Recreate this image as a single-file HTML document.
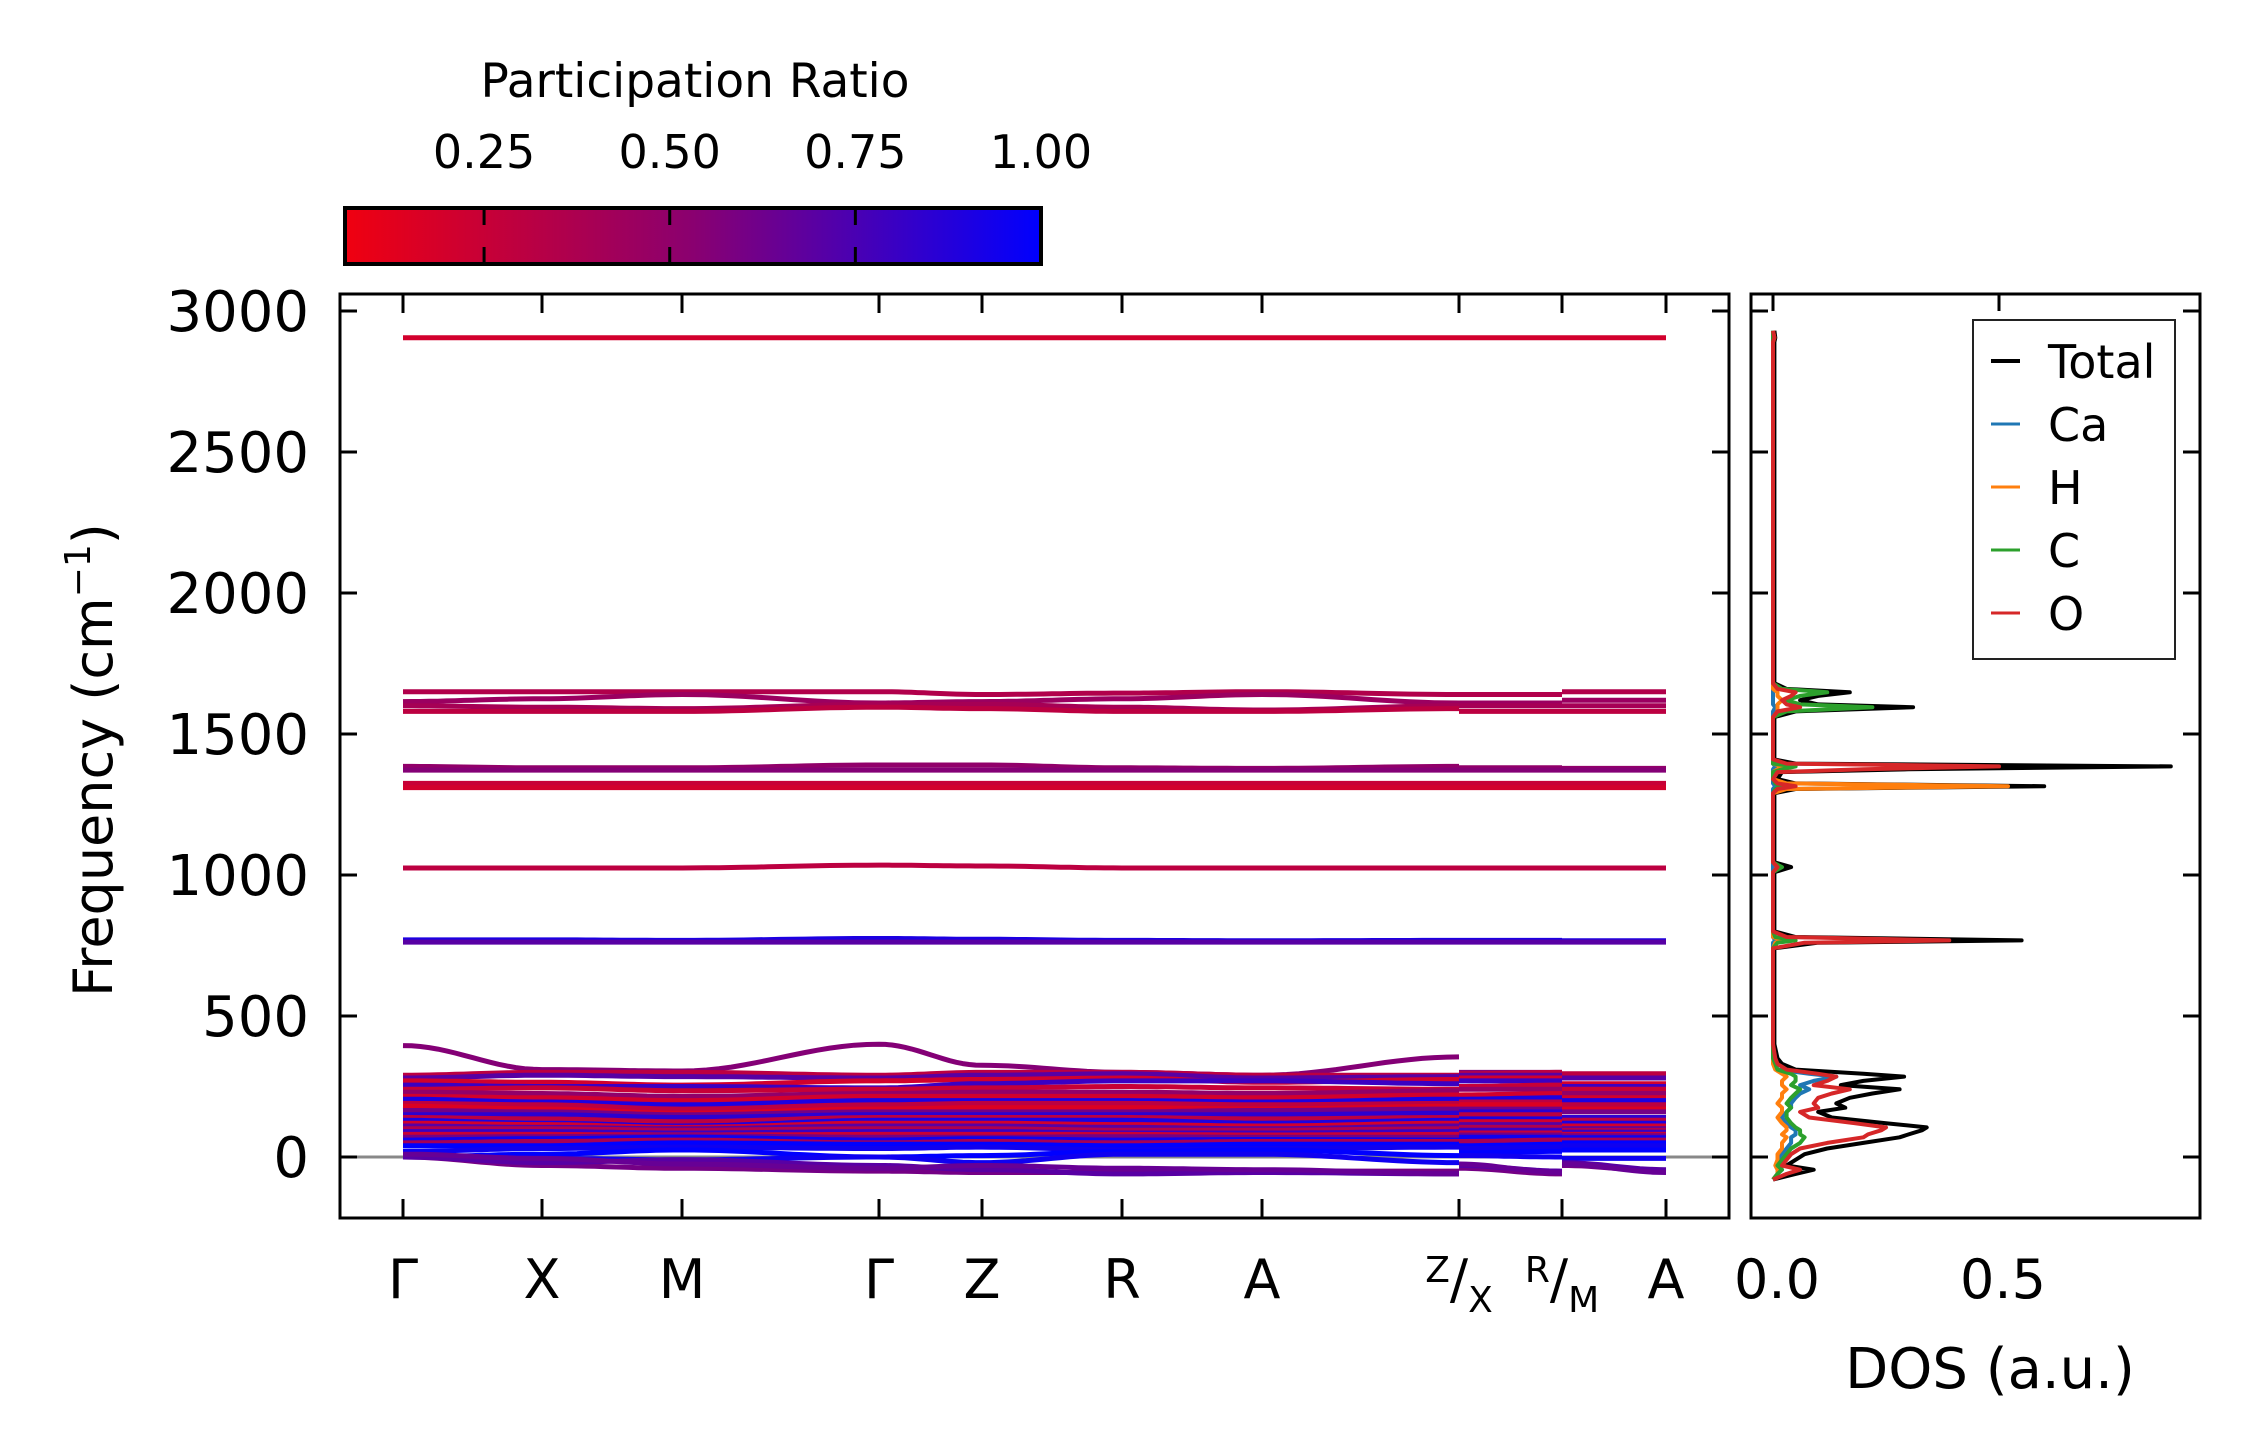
<!DOCTYPE html>
<html><head><meta charset="utf-8"><style>
html,body{margin:0;padding:0;background:#fff;}
svg{display:block;font-family:"DejaVu Sans","Liberation Sans",sans-serif;}
</style></head><body>
<svg id="chart" width="2259" height="1455" viewBox="0 0 2259 1455" xmlns="http://www.w3.org/2000/svg">
<defs>
<linearGradient id="cbg" x1="0" x2="1" y1="0" y2="0">
<stop offset="0" stop-color="#f00010"/><stop offset="0.5" stop-color="#8a0070"/><stop offset="1" stop-color="#0000ff"/>
</linearGradient>
<clipPath id="mainclip"><rect x="340" y="294" width="1389" height="924"/></clipPath>
<clipPath id="dosclip"><rect x="1751" y="294" width="449" height="924"/></clipPath>
</defs>
<g id="colorbar">
<text x="695" y="97" font-size="47" text-anchor="middle">Participation Ratio</text>
<rect x="345" y="208" width="696" height="56" fill="url(#cbg)" stroke="#000" stroke-width="4"/>
</g>
<g id="main"></g>
<g id="dos"></g>
<text transform="translate(112,760) rotate(-90)" font-size="54" text-anchor="middle">Frequency (cm<tspan font-size="36" dy="-22">−1</tspan><tspan dy="22">)</tspan></text>
<text x="1990" y="1388" font-size="56" text-anchor="middle">DOS (a.u.)</text>
</svg>
<script>
// ---- data ----
const cbTicks = [0.25, 0.50, 0.75, 1.00];
const yTicks = [0, 500, 1000, 1500, 2000, 2500, 3000];
const kLabels = ["Γ","X","M","Γ","Z","R","A","Z/X","R/M","A"];
const bandPR = [0.2,0.35,0.45,0.4,0.3,0.5,0.55,0.25,0.2,0.3,0.9,0.7,0.55,
 0.3,0.7,0.2,0.8,0.25,0.5,0.2,0.9,0.3,0.15,0.6,0.85,0.3,0.9,0.2,0.7,0.35,0.8,0.25,0.6,0.95,0.4,1.0,0.95,1.0,0.95,0.6,0.7,0.65];
const bandFreqs = [
 [2905,2905,2905,2905,2905,2905,2905,2905,2905,2905,2905,2905],
 [1650,1650,1650,1650,1640,1645,1650,1640,1640,1640,1650,1650],
 [1615,1625,1640,1610,1615,1625,1640,1610,1610,1610,1620,1620],
 [1600,1595,1590,1605,1605,1595,1585,1600,1600,1600,1600,1600],
 [1580,1580,1580,1595,1590,1580,1580,1590,1580,1580,1580,1580],
 [1385,1380,1380,1390,1390,1380,1378,1385,1380,1380,1378,1378],
 [1372,1372,1372,1372,1372,1372,1372,1372,1372,1372,1372,1372],
 [1325,1325,1325,1325,1325,1325,1325,1325,1325,1325,1325,1325],
 [1310,1310,1310,1310,1310,1310,1310,1310,1310,1310,1310,1310],
 [1025,1025,1025,1035,1032,1025,1025,1025,1025,1025,1025,1025],
 [770,770,768,775,772,768,767,768,768,768,767,767],
 [762,762,762,762,762,762,762,762,762,762,762,762],
 [395,310,305,400,325,300,290,355,300,300,290,290],
 [290,300,300,290,300,300,290,290,295,300,295,295],
 [280,290,285,280,290,295,280,285,290,290,280,280],
 [270,265,255,270,275,280,265,275,280,280,260,260],
 [255,250,250,245,260,270,270,260,270,270,250,250],
 [240,245,235,240,245,250,245,240,250,255,240,240],
 [230,225,215,225,230,230,225,235,240,240,225,225],
 [215,210,200,215,215,215,210,220,220,225,210,210],
 [205,195,185,200,200,200,195,205,205,210,200,200],
 [190,185,170,185,190,190,185,190,195,195,185,185],
 [180,170,155,170,175,175,170,180,185,185,170,170],
 [165,160,150,160,160,160,165,170,170,170,160,160],
 [150,150,140,150,150,150,150,155,160,160,140,140],
 [140,135,125,140,140,140,135,140,150,150,130,130],
 [130,120,110,130,130,130,120,130,135,135,120,120],
 [120,115,105,120,120,115,110,120,125,125,110,110],
 [110,105,100,110,110,105,100,110,115,115,100,100],
 [100,100,95,100,100,95,95,100,105,105,95,95],
 [90,90,85,90,90,85,85,90,95,95,88,88],
 [80,80,78,80,80,80,78,80,85,85,80,80],
 [70,72,75,70,70,72,70,70,78,78,75,75],
 [60,65,70,60,65,60,62,60,70,70,68,68],
 [50,55,60,50,55,50,55,55,55,60,60,60],
 [40,40,50,45,45,40,45,45,40,45,50,50],
 [20,30,35,30,35,25,30,35,30,35,40,40],
 [0,10,25,0,5,20,25,5,15,20,25,25],
 [0,-5,-10,0,-20,10,10,-20,5,0,-5,-5],
 [0,-30,-40,-50,-55,-55,-50,-50,-40,-60,-30,-50],
 [0,-20,-10,-30,-45,-60,-55,-60,-30,-50,-20,-45],
 [10,-5,-25,-40,-30,-40,-45,-60,-25,-55,-25,-55]
];
const dosFreq = [-80,-60,-45,-30,-10,10,30,50,70,80,95,105,120,140,160,175,190,210,225,240,255,270,285,295,310,330,350,400,740,760,768,780,800,1010,1028,1045,1290,1305,1315,1325,1340,1365,1375,1385,1395,1410,1560,1580,1595,1605,1620,1635,1648,1660,1680,2890,2905,2930];
const dosTotal = [0,0.05,0.09,0.03,0.05,0.07,0.12,0.2,0.28,0.30,0.33,0.34,0.25,0.13,0.10,0.16,0.14,0.17,0.22,0.28,0.15,0.20,0.29,0.20,0.05,0.02,0.01,0.003,0.003,0.1,0.55,0.05,0.003,0.003,0.04,0.003,0.003,0.05,0.60,0.05,0.01,0.02,0.30,0.88,0.05,0.003,0.003,0.05,0.31,0.10,0.06,0.10,0.17,0.03,0.003,0.003,0.005,0.003];
const dosCa = [0,0.01,0.02,0.01,0.01,0.02,0.03,0.04,0.04,0.05,0.05,0.04,0.03,0.02,0.03,0.04,0.04,0.05,0.06,0.08,0.06,0.09,0.14,0.08,0.01,0.005,0,0,0,0,0.005,0,0,0,0,0,0,0,0.005,0,0,0,0,0.005,0,0,0,0,0.005,0,0,0,0,0,0,0,0,0];
const dosH = [0,0.01,0.01,0.005,0.01,0.01,0.02,0.02,0.03,0.02,0.03,0.03,0.02,0.01,0.02,0.02,0.01,0.02,0.02,0.03,0.02,0.02,0.03,0.02,0.005,0,0,0,0,0.005,0.02,0,0,0,0.01,0,0,0.03,0.52,0.03,0,0,0.01,0.02,0,0,0,0.01,0.01,0.01,0.02,0.01,0.01,0,0,0,0.003,0];
const dosC = [0,0.01,0.02,0.01,0.02,0.03,0.04,0.06,0.07,0.06,0.06,0.05,0.04,0.03,0.03,0.04,0.03,0.04,0.05,0.06,0.04,0.05,0.05,0.04,0.01,0.005,0,0,0,0.01,0.05,0.005,0,0,0.02,0,0,0.005,0.02,0.005,0,0,0.02,0.05,0,0,0,0.03,0.22,0.06,0.03,0.06,0.12,0.02,0,0,0,0];
const dosO = [0,0.03,0.06,0.02,0.03,0.04,0.06,0.12,0.2,0.21,0.24,0.25,0.18,0.08,0.06,0.1,0.09,0.1,0.13,0.17,0.09,0.12,0.14,0.1,0.03,0.01,0.005,0,0,0.07,0.39,0.03,0,0,0.01,0,0,0.01,0.05,0.01,0,0.01,0.2,0.5,0.03,0,0,0.01,0.06,0.03,0.02,0.04,0.05,0.01,0,0,0.003,0];

// ---- geometry ----
const NS="http://www.w3.org/2000/svg";
const Y0=1157, YS=0.282;
function yv(f){return Y0-f*YS;}
const nodeX=[403,542,682,879,982,1122,1262,1459,1459,1562,1562,1666];
const tickX=[403,542,682,879,982,1122,1262,1459,1562,1666];
function cbx(v){return 345+(v-0.0627)/(1-0.0627)*696;}
function xd(v){return 1773+v*452;}
function prColor(p){const t=Math.max(0,Math.min(1,(p-0.06)/0.94));
 const rr=Math.round(t<0.5?240+(138-240)*t*2:138*(1-(t-0.5)*2));
 const bb=Math.round(t<0.5?16+(112-16)*t*2:112+(255-112)*(t-0.5)*2);
 return `rgb(${rr},0,${bb})`;}
function el(tag,attrs,parent){const e=document.createElementNS(NS,tag);for(const k in attrs)e.setAttribute(k,attrs[k]);parent.appendChild(e);return e;}

const cb=document.getElementById('colorbar');
cbTicks.forEach(v=>{
 const x=cbx(v);
 const t=el('text',{x:x,y:168,'font-size':46,'text-anchor':'middle'},cb);
 
 
 t.textContent=v.toFixed(2);
 if(v<1){
  const a=el('line',{x1:x,x2:x,y1:208,y2:225,stroke:'#000','stroke-width':3},cb);
  
  
  const b=el('line',{x1:x,x2:x,y1:247,y2:264,stroke:'#000','stroke-width':3},cb);
  
  
 }
});

const main=document.getElementById('main');
const bg=el('g',{'clip-path':'url(#mainclip)'},main);
const zl=el('line',{x1:340,x2:1729,y1:yv(0),y2:yv(0),stroke:'#888','stroke-width':3},bg);


bandFreqs.forEach((fr,bi)=>{
 const col=prColor(bandPR[bi]);
 let pts=[];
 const segs=[];
 for(let i=0;i<fr.length-1;i++){
  if(nodeX[i+1]===nodeX[i]){segs.push(pts);pts=[];continue;}
  for(let s=0;s<=16;s++){
   const u=s/16, w=(1-Math.cos(Math.PI*u))/2;
   const x=nodeX[i]+(nodeX[i+1]-nodeX[i])*u;
   pts.push(x.toFixed(1)+','+yv(fr[i]+(fr[i+1]-fr[i])*w).toFixed(1));
  }
 }
 segs.push(pts);
 segs.forEach(p=>{if(p.length<2)return;
  const pl=el('polyline',{points:p.join(' '),fill:'none',stroke:col,'stroke-width':5,'stroke-linejoin':'round'},bg);
  
  
 });
});
const fr1=el('rect',{x:340,y:294,width:1389,height:924,fill:'none',stroke:'#000','stroke-width':3},main);


yTicks.forEach(v=>{
 const y=yv(v);
 const a=el('line',{x1:340,x2:357,y1:y,y2:y,stroke:'#000','stroke-width':3},main);
 
 
 const b=el('line',{x1:1712,x2:1729,y1:y,y2:y,stroke:'#000','stroke-width':3},main);
 
 
 const t=el('text',{x:309,y:y+20,'font-size':56,'text-anchor':'end'},main);
 
 
 t.textContent=String(v);
});
tickX.forEach((x,i)=>{
 const a=el('line',{x1:x,x2:x,y1:1218,y2:1199,stroke:'#000','stroke-width':3},main);
 
 
 const b=el('line',{x1:x,x2:x,y1:294,y2:313,stroke:'#000','stroke-width':3},main);
 
 
 const lab=kLabels[i];
 const t=el('text',{x:x,y:1298,'font-size':54,'text-anchor':'middle'},main);
 
 
 if(lab.includes('/')){
  const [a1,b1]=lab.split('/');
  t.innerHTML=`<tspan font-size="36" dy="-16">${a1}</tspan><tspan dy="16">/</tspan><tspan font-size="36" dy="14">${b1}</tspan>`;
 } else t.textContent=lab;
});

const dos=document.getElementById('dos');
const dg=el('g',{'clip-path':'url(#dosclip)'},dos);
const series=[[dosTotal,'#000000','Total'],[dosCa,'#1f77b4','Ca'],[dosH,'#ff7f0e','H'],[dosC,'#2ca02c','C'],[dosO,'#d62728','O']];
series.forEach(([vals,col,name])=>{
 const p=dosFreq.map((f,i)=>xd(vals[i]).toFixed(1)+','+yv(f).toFixed(1)).join(' ');
 const pl=el('polyline',{points:p,fill:'none',stroke:col,'stroke-width':4,'stroke-linejoin':'round'},dg);
 
 
});
const fr2=el('rect',{x:1751,y:294,width:449,height:924,fill:'none',stroke:'#000','stroke-width':3},dos);


yTicks.forEach(v=>{
 const y=yv(v);
 const a=el('line',{x1:1751,x2:1768,y1:y,y2:y,stroke:'#000','stroke-width':3},dos);
 
 
 const b=el('line',{x1:2183,x2:2200,y1:y,y2:y,stroke:'#000','stroke-width':3},dos);
 
 
});
[0,0.5].forEach(v=>{
 const x=xd(v);
 const a=el('line',{x1:x,x2:x,y1:294,y2:311,stroke:'#000','stroke-width':3},dos);
 
 
 const t=el('text',{x:x+4,y:1298,'font-size':54,'text-anchor':'middle'},dos);
 
 
 t.textContent=v.toFixed(1);
});
const lg=el('g',{},dos);


el('rect',{x:1973,y:320,width:202,height:339,fill:'#fff',stroke:'#222','stroke-width':2},lg);
series.forEach(([vals,col,name],i)=>{
 const y=361+i*63;
 const l=el('line',{x1:1991,x2:2020,y1:y,y2:y,stroke:col,'stroke-width':name==='Total'?4:3},lg);
 
 
 const t=el('text',{x:2048,y:y+17,'font-size':46},lg);
 
 
 t.textContent=name;
});
</script>
</body></html>
